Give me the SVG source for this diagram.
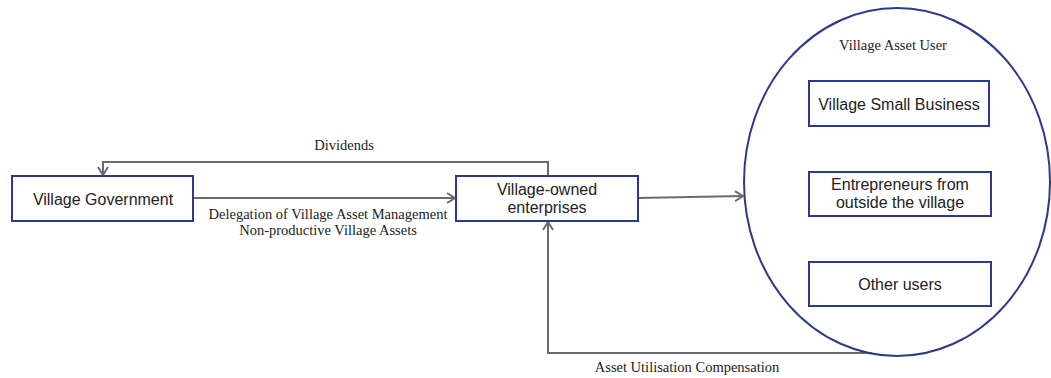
<svg xmlns="http://www.w3.org/2000/svg" width="1051" height="378" viewBox="0 0 1051 378">
<defs>
<style>
.box{fill:#fff;stroke:#2b3a8c;stroke-width:2}
.ell{fill:none;stroke:#2b3a8c;stroke-width:2}
.con{fill:none;stroke:#6b6b6b;stroke-width:2}
.t{font-family:"Liberation Sans",Arial,sans-serif;font-size:16px;fill:#222;text-anchor:middle}
.l{font-family:"Liberation Serif","Times New Roman",serif;font-size:14.5px;fill:#222;text-anchor:middle}
</style>
<marker id="arr" markerWidth="12" markerHeight="12" refX="10" refY="6" orient="auto" markerUnits="userSpaceOnUse">
<path d="M2,1 L10,6 L2,11" fill="none" stroke="#6b6b6b" stroke-width="2"/>
</marker>
</defs>
<rect width="1051" height="378" fill="#fff"/>
<g id="connectors">
<path class="con" d="M548,176 V162 H103 V175" marker-end="url(#arr)"/>
<path class="con" d="M193,198 H455" marker-end="url(#arr)"/>
<path class="con" d="M638,198 L743,196" marker-end="url(#arr)"/>
<path class="con" d="M872,353 H548 V222" marker-end="url(#arr)"/>
<text class="l" x="344" y="150">Dividends</text>
<text class="l" x="328" y="219">Delegation of Village Asset Management</text>
<text class="l" x="328" y="235">Non-productive Village Assets</text>
<text class="l" x="687" y="372">Asset Utilisation Compensation</text>
</g>
<g id="village-government">
<rect class="box" x="12" y="176" width="181" height="45"/>
<text class="t" x="103" y="205">Village Government</text>
</g>
<g id="village-owned-enterprises">
<rect class="box" x="456" y="176" width="182" height="45"/>
<text class="t" x="547" y="195">Village-owned</text>
<text class="t" x="547" y="213">enterprises</text>
</g>
<g id="village-asset-user">
<ellipse class="ell" cx="897" cy="182" rx="153" ry="174"/>
<text class="l" x="893" y="50">Village Asset User</text>
</g>
<g id="village-small-business">
<rect class="box" x="809" y="81" width="180" height="45"/>
<text class="t" x="899" y="110">Village Small Business</text>
</g>
<g id="entrepreneurs">
<rect class="box" x="809" y="172" width="182" height="44"/>
<text class="t" x="900" y="190">Entrepreneurs from</text>
<text class="t" x="900" y="208">outside the village</text>
</g>
<g id="other-users">
<rect class="box" x="809" y="262" width="182" height="44"/>
<text class="t" x="900" y="290">Other users</text>
</g>
</svg>
